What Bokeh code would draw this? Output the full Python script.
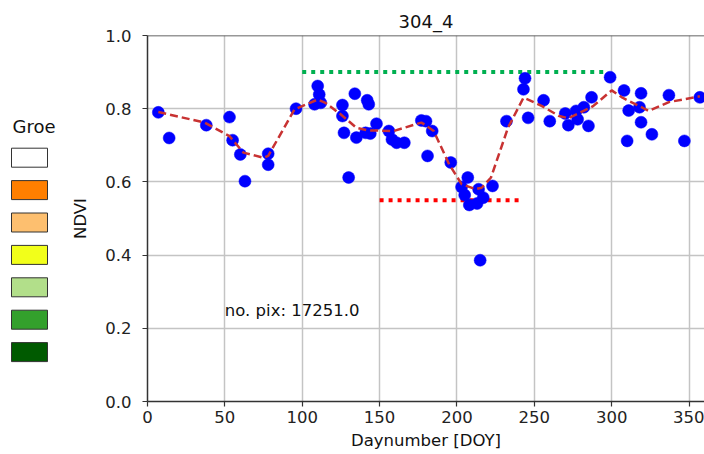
from bokeh.plotting import figure
from bokeh.layouts import row
from bokeh.models import Range1d, FixedTicker, PrintfTickFormatter, Span
from bokeh.core.properties import value
from bokeh.embed import file_html
from bokeh.resources import INLINE

# ---- data ----
doy = [7, 14, 38, 53, 55, 60, 63, 78, 78, 96, 108, 110, 111, 112, 126, 126, 127, 130,
       134, 135, 141, 142, 143, 144, 148, 156, 158, 161, 166, 177, 180, 181, 184, 196,
       203, 205, 207, 208, 213, 214, 215, 217, 223, 232, 243, 244, 246, 256, 260, 270,
       272, 277, 278, 282, 285, 287, 299, 308, 311, 310, 318, 319, 319, 326, 337, 347, 357]
ndvi = [0.79, 0.72, 0.755, 0.777, 0.714, 0.675, 0.602, 0.677, 0.647, 0.80, 0.812, 0.862,
        0.839, 0.816, 0.81, 0.78, 0.734, 0.612, 0.841, 0.721, 0.734, 0.823, 0.812, 0.732,
        0.759, 0.739, 0.716, 0.707, 0.707, 0.768, 0.766, 0.671, 0.739, 0.653, 0.586, 0.564,
        0.612, 0.537, 0.541, 0.580, 0.386, 0.557, 0.589, 0.766, 0.853, 0.883, 0.775, 0.823,
        0.766, 0.787, 0.755, 0.794, 0.771, 0.804, 0.753, 0.831, 0.886, 0.850, 0.795, 0.712,
        0.804, 0.842, 0.763, 0.730, 0.837, 0.712, 0.831]

smooth_doy = [7, 37, 53, 62, 75, 78, 95, 110, 115, 125, 135, 142, 159, 177, 179, 185, 195,
              203, 212, 216, 222, 233, 243, 246, 255, 266, 272, 288, 300, 307, 324, 337, 357]
smooth_ndvi = [0.791, 0.762, 0.725, 0.680, 0.666, 0.671, 0.798, 0.825, 0.816, 0.784, 0.748,
               0.741, 0.739, 0.762, 0.757, 0.739, 0.648, 0.594, 0.580, 0.584, 0.612, 0.748,
               0.830, 0.825, 0.807, 0.780, 0.774, 0.807, 0.850, 0.830, 0.794, 0.818, 0.834]

green_level_x = [100, 295]
green_level_y = [0.90, 0.90]
red_level_x = [150, 243]
red_level_y = [0.55, 0.55]

x_ticks = [0, 50, 100, 150, 200, 250, 300, 350]
y_ticks = [0.0, 0.2, 0.4, 0.6, 0.8, 1.0]

title_text = "304_4"
pix_text = "no. pix: 17251.0"
legend_title = "Groe"
legend_colors = ["#ffffff", "#ff7f00", "#fdbf6f", "#f2ff1a", "#b2df8a", "#33a02c", "#005a00"]

FONT = "DejaVu Sans"
FS = "16.5px"

# ---- legend panel (cut-off legend on the left) ----
# its frame is aligned with the main frame (page y 35..401)
row_px = 32.4
top_rows = (157.2 - 35) / row_px
bot_rows = (401 - 157.2) / row_px
leg = figure(width=68, height=454, output_backend="svg", toolbar_location=None,
             x_range=Range1d(0, 68), y_range=Range1d(bot_rows, -top_rows),
             min_border=0, min_border_top=35, min_border_bottom=53, outline_line_color=None)
leg.axis.visible = False
leg.grid.visible = False
leg.rect(x=29, y=list(range(len(legend_colors))), width=36, height=19 / row_px,
         fill_color=legend_colors, line_color="#333333", line_width=1)
leg.text(x=[12], y=[-0.95], text=[legend_title], text_font=value(FONT),
         text_font_size="18px", text_baseline="middle", text_align="left", text_color="#111111")

# ---- main plot ----
p = figure(width=636, height=454, output_backend="svg", toolbar_location=None,
           x_range=Range1d(0, 360), y_range=Range1d(0, 1.0),
           min_border_left=78, min_border_right=0, min_border_top=35, min_border_bottom=53,
           outline_line_color=None)
p.title.text = title_text
p.title.align = "center"
p.title.text_font = FONT
p.title.text_font_size = "18px"
p.title.text_font_style = "normal"
p.title.text_color = "#111111"
p.title.standoff = 8

p.xaxis.ticker = FixedTicker(ticks=x_ticks)
p.yaxis.ticker = FixedTicker(ticks=y_ticks)
p.yaxis.formatter = PrintfTickFormatter(format="%.1f")
p.xaxis.axis_label = "Daynumber [DOY]"
p.yaxis.axis_label = "NDVI"
for ax in (p.xaxis, p.yaxis):
    ax.axis_label_text_font = FONT
    ax.axis_label_text_font_size = FS
    ax.axis_label_text_font_style = "normal"
    ax.axis_label_text_color = "#111111"
    ax.major_label_text_font = FONT
    ax.major_label_text_font_size = FS
    ax.major_label_text_color = "#222222"
    ax.axis_line_color = "#333333"
    ax.axis_line_width = 1.5
    ax.major_tick_line_color = "#333333"
    ax.major_tick_line_width = 1.2
    ax.major_tick_out = 5
    ax.major_tick_in = 0
    ax.minor_tick_line_color = None
p.xaxis.major_label_standoff = 4
p.xaxis.axis_label_standoff = 5
p.yaxis.major_label_standoff = 11
p.yaxis.axis_label_standoff = 12

p.grid.grid_line_color = "#c4c4c4"
p.grid.grid_line_width = 1.5

p.add_layout(Span(location=1.0, dimension="width", line_color="#333333", line_width=1.5))

p.line(green_level_x, green_level_y, line_color="#00b050", line_width=4, line_dash="4 5")
p.line(red_level_x, red_level_y, line_color="#ff0000", line_width=4, line_dash="4 5")

p.scatter(doy, ndvi, size=12, fill_color="#0000ff", line_color="#0000ff", line_width=0.5)
p.line(smooth_doy, smooth_ndvi, line_color="#c83232", line_width=2.5, line_dash="8 4")

p.text(x=[50], y=[0.25], text=[pix_text], text_font=value(FONT), text_font_size=FS,
       text_align="left", text_baseline="alphabetic", text_color="#111111")

layout = row(leg, p, spacing=0)

open("out.html", "w").write(file_html(layout, INLINE))
